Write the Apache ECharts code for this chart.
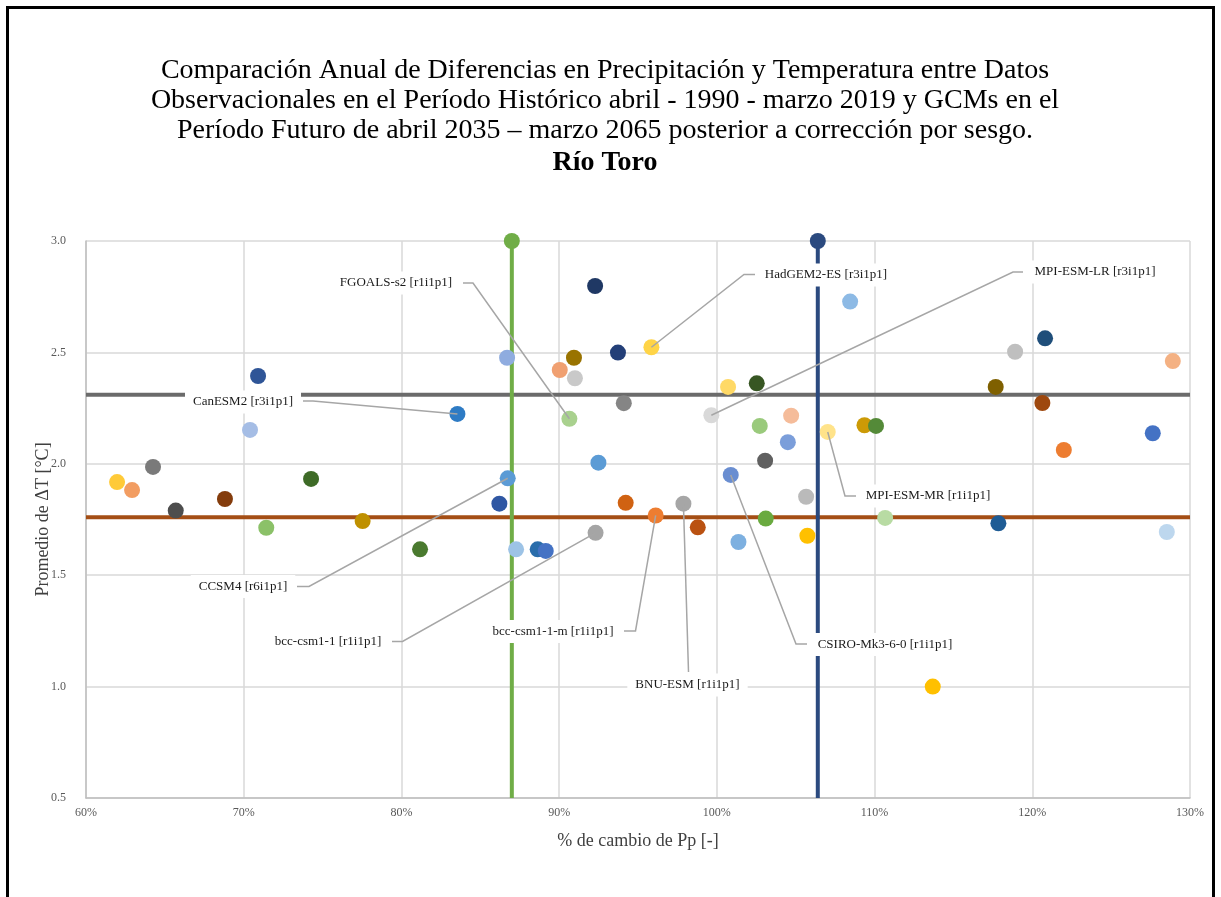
<!DOCTYPE html>
<html>
<head>
<meta charset="utf-8">
<script src="https://cdn.jsdelivr.net/npm/echarts@6/dist/echarts.min.js"></script>
<style>
  html, body { margin: 0; padding: 0; background: #fff; }
  #chart { width: 1221px; height: 897px; }
</style>
</head>
<body>
<div id="chart"></div>
<script>
// % change in annual precipitation (x) and mean temperature change in °C (y), one point per GCM run
const ppChange = [
  61.97, 62.92, 64.25, 65.69, 68.81, 70.91, 70.40, 71.43, 74.27, 77.54,
  81.18, 83.55, 86.21, 86.70, 86.74, 87.27, 88.64, 89.15, 90.04, 90.65,
  90.94, 91.00, 92.28, 92.31, 92.49, 93.73, 94.10, 94.22, 95.85, 96.12,
  97.88, 98.79, 99.65, 100.71, 100.88, 101.37, 102.53, 102.72, 103.06, 103.10,
  104.50, 104.71, 105.66, 105.74, 107.03, 108.45, 109.36, 110.09, 110.67, 113.69,
  117.68, 117.85, 118.91, 120.64, 120.81, 122.00, 127.64, 128.53, 128.91
];
const deltaT = [
  1.918, 1.882, 1.986, 1.790, 1.842, 2.394, 2.152, 1.713, 1.932, 1.743,
  1.616, 2.224, 1.821, 2.476, 1.935, 1.616, 1.616, 1.609, 2.421, 2.202,
  2.476, 2.384, 2.798, 1.690, 2.005, 2.499, 2.272, 1.825, 2.523, 1.768,
  1.821, 1.715, 2.218, 2.345, 1.950, 1.649, 2.361, 2.170, 2.014, 1.754,
  2.097, 2.216, 1.852, 1.677, 2.143, 2.728, 2.173, 2.170, 1.757, 1.000,
  2.345, 1.733, 2.503, 2.273, 2.563, 2.062, 2.137, 1.694, 2.461
];
// Marker colour of each GCM run
const pointColors = [
  '#FFCA38', '#F29D62', '#7A7A7A', '#4D4D4D', '#843C0C', '#2F5597', '#A5BDE5', '#8BC168', '#3E6B27', '#BF9000',
  '#4A7A2F', '#2E7BC4', '#2F57A3', '#8FACDF', '#5B9BD5', '#9DC3E6', '#2A6DAB', '#4472C4', '#F0A071', '#A9D18E',
  '#997300', '#C9C9C9', '#1F3864', '#A5A5A5', '#5B9BD5', '#233F78', '#858585', '#D06212', '#FFD447', '#ED7D31',
  '#A6A6A6', '#BA5212', '#D9D9D9', '#FFD966', '#6A8ED1', '#7DB0E0', '#375623', '#9ACA7C', '#606060', '#6AAA3F',
  '#7B9EDA', '#F5BC9A', '#BABABA', '#FFC000', '#FFE38A', '#8DBAE5', '#CC9A06', '#548A38', '#B8DBA3', '#FFC000',
  '#7F6000', '#1F5C95', '#BFBFBF', '#9E480E', '#1F4E7A', '#ED7D31', '#4472C4', '#BDD7EE', '#F4B183'
];

// Reference precipitation changes (vertical lines, marker at the top) and reference ΔT levels (horizontal lines)
const refPp = [87.0, 106.4];
const refPpTop = 3.0;
const refPpColors = ['#70AD47', '#2B4A7F'];
const refDt = [2.31, 1.76];
const refDtColors = ['#6B6B6B', '#A44E15'];

// Axis ranges: [min, max, step]
const xRange = [60, 130, 10];
const yRange = [0.5, 3.0, 0.5];

// Named runs and the point each callout refers to
const labelNames = [
  'FGOALS-s2 [r1i1p1]', 'HadGEM2-ES [r3i1p1]', 'MPI-ESM-LR [r3i1p1]', 'CanESM2 [r3i1p1]',
  'MPI-ESM-MR [r1i1p1]', 'CCSM4 [r6i1p1]', 'bcc-csm1-1 [r1i1p1]', 'bcc-csm1-1-m [r1i1p1]',
  'BNU-ESM [r1i1p1]', 'CSIRO-Mk3-6-0 [r1i1p1]'
];
const labelPoint = [19, 28, 32, 11, 44, 14, 23, 29, 30, 34];

// Callout layout in pixels: text centre (cx, cy), box attachment (ax, ay), elbow (ex, ey)
const labelBoxes = [
  { cx: 396, cy: 283, ax: 463, ay: 283, ex: 473, ey: 283 },
  { cx: 826, cy: 275, ax: 755, ay: 274.5, ex: 744, ey: 274.5 },
  { cx: 1095, cy: 272, ax: 1023, ay: 272, ex: 1013, ey: 272 },
  { cx: 243, cy: 402, ax: 303, ay: 401, ex: 313, ey: 401 },
  { cx: 928, cy: 496, ax: 856, ay: 496, ex: 845, ey: 496 },
  { cx: 243, cy: 586.5, ax: 297, ay: 586.5, ex: 309, ey: 586.5 },
  { cx: 328, cy: 641.5, ax: 392, ay: 641.5, ex: 402.5, ey: 641.5 },
  { cx: 553, cy: 631.5, ax: 624, ay: 631, ex: 635.5, ey: 631 },
  { cx: 687.5, cy: 685, ax: 688.5, ay: 672, ex: 688.5, ey: 672 },
  { cx: 885, cy: 644.5, ax: 807, ay: 644, ex: 796, ey: 644 }
];

const titleLines = [
  'Comparación Anual de Diferencias en Precipitación y Temperatura entre Datos',
  'Observacionales en el Período Histórico abril - 1990 - marzo 2019 y GCMs en el',
  'Período Futuro de abril 2035 – marzo 2065 posterior a corrección por sesgo.'
];
const titleBold = 'Río Toro';

const SERIF = '"Liberation Serif", "Times New Roman", serif';

const chart = echarts.init(document.getElementById('chart'), null, { renderer: 'canvas' });

const series = [];
refDt.forEach((v, i) => {
  series.push({
    type: 'line',
    data: [[xRange[0], v], [xRange[1], v]],
    symbol: 'none',
    lineStyle: { color: refDtColors[i], width: 4 },
    z: 2,
    silent: true
  });
});
refPp.forEach((v, i) => {
  series.push({
    type: 'line',
    data: [
      { value: [v, yRange[0]], symbol: 'none' },
      { value: [v, refPpTop], symbol: 'circle' }
    ],
    symbolSize: 16,
    showSymbol: true,
    clip: false,
    lineStyle: { color: refPpColors[i], width: 4 },
    itemStyle: { color: refPpColors[i] },
    z: 3,
    silent: true
  });
});
series.push({
  type: 'scatter',
  data: ppChange.map((x, i) => [x, deltaT[i]]),
  symbol: 'circle',
  symbolSize: 16,
  clip: false,
  itemStyle: {
    color: (p) => pointColors[p.dataIndex],
    opacity: 1
  },
  z: 4,
  silent: true
});

const option = {
  backgroundColor: '#fff',
  animation: false,
  grid: { left: 86, right: 31, top: 241, bottom: 99, containLabel: false },
  xAxis: {
    type: 'value',
    min: xRange[0], max: xRange[1], interval: xRange[2],
    name: '% de cambio de Pp [-]',
    nameLocation: 'middle',
    nameGap: 34,
    nameMoveOverlap: false,
    nameTextStyle: { fontFamily: SERIF, fontSize: 18, color: '#404040' },
    axisLine: { show: true, lineStyle: { color: '#BFBFBF', width: 1.5 } },
    axisTick: { show: false },
    axisLabel: { formatter: '{value}%', fontFamily: SERIF, fontSize: 12, color: '#595959', margin: 9 },
    splitLine: { show: true, lineStyle: { color: '#D9D9D9', width: 1.5 } }
  },
  yAxis: {
    type: 'value',
    min: yRange[0], max: yRange[1], interval: yRange[2],
    name: 'Promedio de ΔT [°C]',
    nameLocation: 'middle',
    nameGap: 34,
    nameMoveOverlap: false,
    nameTextStyle: { fontFamily: SERIF, fontSize: 18, color: '#404040' },
    axisLine: { show: true, lineStyle: { color: '#BFBFBF', width: 1.5 } },
    axisTick: { show: false },
    axisLabel: { formatter: (v) => v.toFixed(1), fontFamily: SERIF, fontSize: 12, color: '#595959', margin: 20 },
    splitLine: { show: true, lineStyle: { color: '#D9D9D9', width: 1.5 } }
  },
  series: series
};

chart.setOption(option);

// Frame, title and callouts
const graphics = [];
graphics.push({
  type: 'rect',
  shape: { x: 7.5, y: 7.5, width: 1206, height: 1000 },
  style: { fill: 'none', stroke: '#000', lineWidth: 3 },
  silent: true, z: 1
});
titleLines.forEach((t, i) => {
  graphics.push({
    type: 'text', x: 605, y: 71 + i * 30, silent: true, z: 10,
    style: { text: t, font: '28px ' + SERIF, fill: '#000', align: 'center', verticalAlign: 'middle' }
  });
});
graphics.push({
  type: 'text', x: 605, y: 163, silent: true, z: 10,
  style: { text: titleBold, font: 'bold 28px ' + SERIF, fill: '#000', align: 'center', verticalAlign: 'middle' }
});

labelNames.forEach((name, i) => {
  const idx = labelPoint[i];
  const b = labelBoxes[i];
  const p = chart.convertToPixel({ gridIndex: 0 }, [ppChange[idx], deltaT[idx]]);
  graphics.push({
    type: 'polyline', silent: true, z: 50,
    shape: { points: [p, [b.ex, b.ey], [b.ax, b.ay]] },
    style: { stroke: '#A6A6A6', lineWidth: 1.5, fill: 'none' }
  });
  graphics.push({
    type: 'text', x: b.cx, y: b.cy, silent: true, z: 60,
    style: {
      text: name, font: '13px ' + SERIF, fill: '#1A1A1A',
      align: 'center', verticalAlign: 'middle',
      backgroundColor: '#fff', padding: [5, 8]
    }
  });
});

chart.setOption({ graphic: graphics });
</script>
</body>
</html>
